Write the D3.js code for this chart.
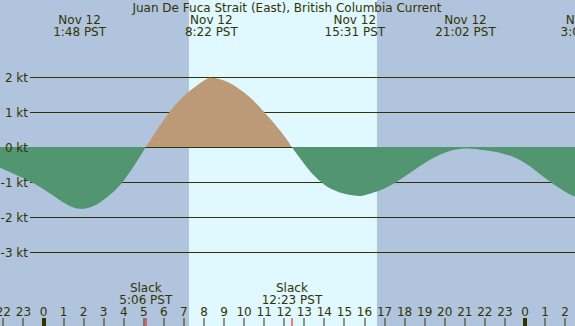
<!DOCTYPE html>
<html><head><meta charset="utf-8">
<script src="https://cdn.jsdelivr.net/npm/d3@7/dist/d3.min.js"></script>
<style>html,body{margin:0;padding:0;overflow:hidden;background:#b0c4de}svg{display:block}</style>
</head><body>
<script>
const titleText = "Juan De Fuca Strait (East), British Columbia Current";
// current speed (kt), by hour from midnight Nov 12
const hours  = [-3, -2, -1, 0, 1, 1.5, 1.8, 2.1, 2.5, 3, 4, 5, 5.1, 6, 7, 8, 8.37, 9, 10, 11, 12, 12.38, 13, 13.5, 14, 14.5, 15, 15.6, 16, 17, 18, 19, 20, 21, 22, 23, 24, 25, 26, 26.5, 27];
const speeds = [-0.4, -0.63, -0.89, -1.2, -1.58, -1.72, -1.76, -1.75, -1.68, -1.5, -0.95, -0.09, 0, 0.78, 1.46, 1.9, 1.98, 1.9, 1.56, 1.0, 0.32, 0, -0.48, -0.82, -1.07, -1.23, -1.33, -1.39, -1.37, -1.18, -0.84, -0.45, -0.16, -0.04, -0.09, -0.2, -0.45, -0.88, -1.27, -1.41, -1.5];
const eventHours = [1.8, 8.367, 15.517, 21.033, 27.09];
const eventDates = ["Nov 12", "Nov 12", "Nov 12", "Nov 12", "Nov 13"];
const eventTimes = ["1:48 PST", "8:22 PST", "15:31 PST", "21:02 PST", "3:05 PST"];
const slackHours = [5.1, 12.383];
const slackTimes = ["5:06 PST", "12:23 PST"];
const daylight = [7.25, 16.62];
const yTicks = [2, 1, 0, -1, -2, -3];
const hourTicks = d3.range(-2, 27);

const W = 575, H = 326;
const ink = "#333300";
const svg = d3.select("body").append("svg").attr("width", W).attr("height", H)
  .style("font-family", "DejaVu Sans, sans-serif");
const x = d3.scaleLinear().domain([0, 24]).range([43.5, 525]);
const y = d3.scaleLinear().domain([-3, 2]).range([252.3, 77]);

svg.append("rect").attr("width", W).attr("height", H).attr("fill", "#b0c4de");
svg.append("rect").attr("x", x(daylight[0])).attr("y", 0)
  .attr("width", x(daylight[1]) - x(daylight[0])).attr("height", H).attr("fill", "#e0f8ff");

// gridlines
svg.append("g").selectAll("line").data(yTicks).join("line")
  .attr("x1", 30).attr("x2", W).attr("y1", d => Math.round(y(d)) + 0.5).attr("y2", d => Math.round(y(d)) + 0.5)
  .attr("stroke", ink).attr("stroke-width", 1);

// fills
const defs = svg.append("defs");
defs.append("clipPath").attr("id", "pos").append("rect").attr("x", 0).attr("y", 0).attr("width", W).attr("height", y(0));
defs.append("clipPath").attr("id", "neg").append("rect").attr("x", 0).attr("y", y(0)).attr("width", W).attr("height", H);
const pts = hours.map((h, i) => [h, speeds[i]]);
const area = d3.area().x(d => x(d[0])).y0(y(0)).y1(d => y(d[1])).curve(d3.curveNatural);
svg.append("path").attr("d", area(pts)).attr("fill", "#bc9a78").attr("clip-path", "url(#pos)");
svg.append("path").attr("d", area(pts)).attr("fill", "#519571").attr("clip-path", "url(#neg)");

// y labels
svg.append("g").selectAll("text").data(yTicks).join("text")
  .attr("x", 28).attr("y", d => y(d) + 4.5).attr("text-anchor", "end")
  .attr("font-size", 12).attr("fill", ink).text(d => d + " kt");

// title
svg.append("text").attr("x", 287).attr("y", 12).attr("text-anchor", "middle")
  .attr("font-size", 12).attr("fill", ink).text(titleText);

// event labels
const ev = svg.append("g").selectAll("g").data(eventHours).join("g");
ev.append("text").attr("x", d => x(d)).attr("y", 24).attr("text-anchor", "middle")
  .attr("font-size", 12).attr("fill", ink).text((d, i) => eventDates[i]);
ev.append("text").attr("x", d => x(d)).attr("y", 36).attr("text-anchor", "middle")
  .attr("font-size", 12).attr("fill", ink).text((d, i) => eventTimes[i]);

// slack labels
const sl = svg.append("g").selectAll("g").data(slackHours).join("g");
sl.append("text").attr("x", d => x(d)).attr("y", 292).attr("text-anchor", "middle")
  .attr("font-size", 12).attr("fill", ink).text("Slack");
sl.append("text").attr("x", d => x(d)).attr("y", 304).attr("text-anchor", "middle")
  .attr("font-size", 12).attr("fill", ink).text((d, i) => slackTimes[i]);

// hour axis
svg.append("g").selectAll("text").data(hourTicks).join("text")
  .attr("x", d => x(d)).attr("y", 316).attr("text-anchor", "middle")
  .attr("font-size", 12).attr("fill", ink).text(d => ((d % 24) + 24) % 24);
svg.append("g").selectAll("rect").data(hourTicks).join("rect")
  .attr("x", d => Math.round(x(d)) - ((d % 24 === 0) ? 2 : 0.5))
  .attr("y", 318).attr("width", d => (d % 24 === 0) ? 4 : 1).attr("height", 8).attr("fill", ink);
svg.append("g").selectAll("rect").data(slackHours).join("rect")
  .attr("x", d => Math.round(x(d)) - 0.5).attr("y", 318).attr("width", 1).attr("height", 8).attr("fill", "#ff0000");
</script>
</body></html>
